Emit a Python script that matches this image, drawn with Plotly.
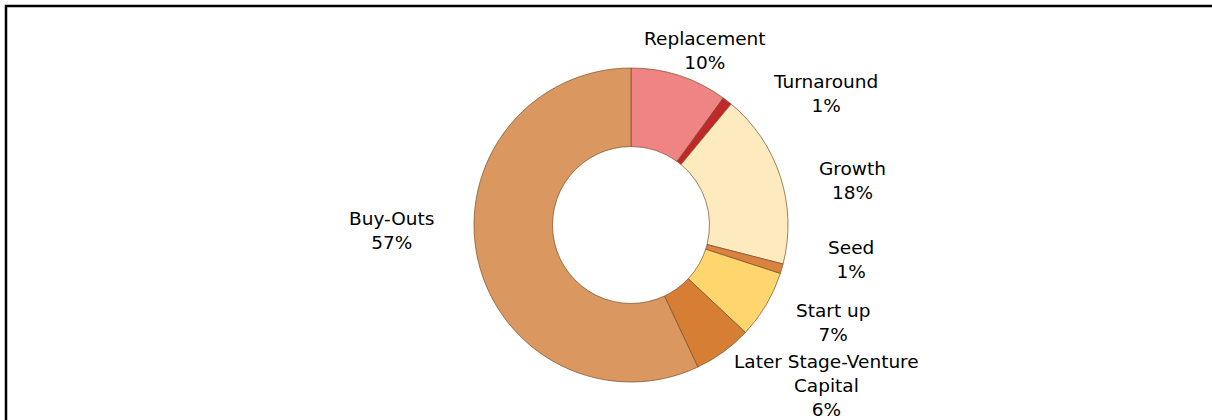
import plotly.graph_objects as go

W, H = 1212, 420

categories = ["Replacement", "Turnaround", "Growth", "Seed", "Start up",
              "Later Stage-Venture Capital", "Buy-Outs"]
values = [10, 1, 18, 1, 7, 6, 57]
colors = ["#F08484", "#C0282A", "#FDEABE", "#DC8240", "#FFD66E", "#D67E34", "#DB9760"]

# label block centres in pixels (layout only)
label_pos = [(705, 50), (825, 93), (852, 180), (851, 259), (834, 322), (826, 385), (392, 230)]

cx, cy, r = 631, 225, 157

fig = go.Figure()
fig.add_trace(go.Pie(
    labels=categories,
    values=values,
    sort=False,
    direction="clockwise",
    rotation=0,
    hole=0.5,
    textinfo="none",
    hoverinfo="label+percent",
    marker=dict(colors=colors, line=dict(color="rgba(120,78,40,0.7)", width=1)),
    domain=dict(x=[(cx - r) / W, (cx + r) / W],
                y=[(H - cy - r) / H, (H - cy + r) / H]),
    showlegend=False,
))

annotations = []
for cat, v, (px, py) in zip(categories, values, label_pos):
    text = cat.replace("Venture ", "Venture<br>") + "<br>" + f"{v}%"
    annotations.append(dict(
        x=px / W, y=1 - py / H, xref="paper", yref="paper",
        text=text, showarrow=False, xanchor="center", yanchor="middle",
        align="center",
        font=dict(family="DejaVu Sans, Verdana, sans-serif", size=18.5, color="#000000"),
    ))

fig.update_layout(
    width=W, height=H,
    margin=dict(l=0, r=0, t=0, b=0),
    paper_bgcolor="white",
    plot_bgcolor="white",
    annotations=annotations,
    shapes=[dict(type="rect", xref="paper", yref="paper",
                 x0=6 / W, x1=1.05, y0=-0.05, y1=1 - 6 / H,
                 line=dict(color="black", width=2.5), layer="above")],
)

fig.write_html("out.html",
               config={"displayModeBar": False},
               post_script="document.body.style.margin='0';document.body.style.overflow='hidden';")
